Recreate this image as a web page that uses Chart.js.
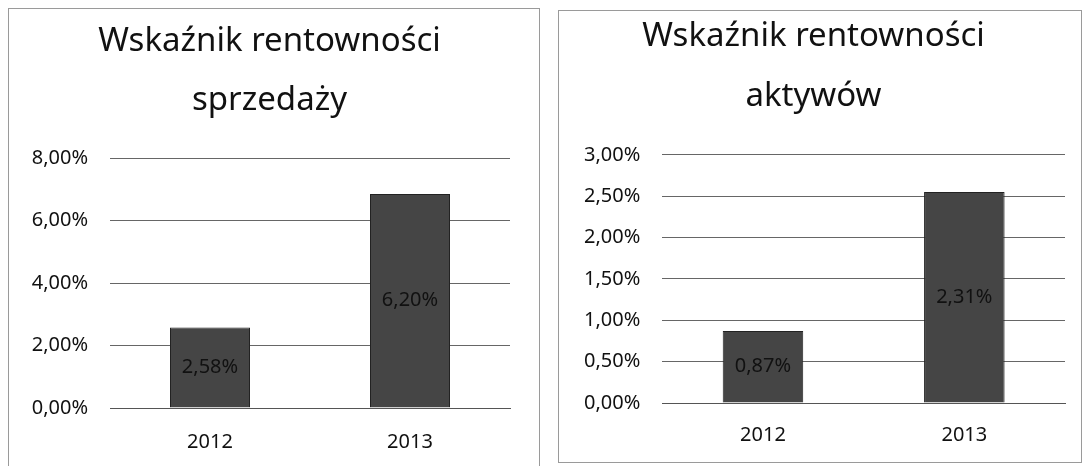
<!DOCTYPE html>
<html lang="pl">
<head>
  <meta charset="UTF-8">
  <title>Wskaźniki rentowności</title>
  <script src="https://cdn.jsdelivr.net/npm/chart.js"></script>
  <style>
    body { margin: 0; background: #fff; width: 1083px; height: 466px; overflow: hidden; position: relative; }
    .box { position: absolute; border: 1px solid #9a9a9a; background: #fff; overflow: hidden; }
    #box1 { left: 8px; top: 8px; width: 530px; height: 470px; }
    #box2 { left: 558px; top: 10px; width: 522px; height: 451px; }
  </style>
</head>
<body>
  <div class="box" id="box1"><canvas id="chart1" width="530" height="470"></canvas></div>
  <div class="box" id="box2"><canvas id="chart2" width="522" height="451"></canvas></div>

<script>
// dane
const years = ['2012', '2013'];
const salesRoS = [2.58, 6.85];          // wysokość słupków (%)
const salesLabels = ['2,58%', '6,20%']; // etykiety danych jak na obrazku
const assetsRoA = [0.87, 2.55];
const assetsLabels = ['0,87%', '2,31%'];

const FONT = "'Noto Sans', 'Open Sans', sans-serif";
const barColor = '#454545';

// etykiety danych w środku słupka
const barLabels = {
  id: 'barLabels',
  afterDatasetsDraw(chart, args, opts) {
    const ctx = chart.ctx;
    const meta = chart.getDatasetMeta(0);
    ctx.save();
    ctx.font = '20px ' + FONT;
    ctx.fillStyle = '#111';
    ctx.textAlign = 'center';
    ctx.textBaseline = 'middle';
    meta.data.forEach((bar, i) => {
      ctx.fillText(opts.texts[i], bar.x, (bar.y + bar.base) / 2);
    });
    ctx.restore();
  }
};

function pct(v) {
  return v.toFixed(2).replace('.', ',') + '%';
}

function makeChart(id, title, values, texts, max, step, pad, titlePad, lh, xPad, yWidth) {
  return new Chart(document.getElementById(id), {
    type: 'bar',
    data: {
      labels: years,
      datasets: [{
        data: values,
        backgroundColor: barColor,
        borderColor: '#222',
        borderWidth: 1,
        barPercentage: 0.4,
        categoryPercentage: 1
      }]
    },
    plugins: [barLabels],
    options: {
      responsive: false,
      animation: false,
      layout: { padding: pad },
      plugins: {
        legend: { display: false },
        tooltip: { enabled: false },
        title: {
          display: true,
          text: title,
          color: '#111',
          font: { family: FONT, size: 33, weight: 'normal', lineHeight: lh },
          padding: titlePad
        },
        barLabels: { texts: texts }
      },
      scales: {
        x: {
          grid: { display: false },
          border: { color: '#555', width: 1 },
          ticks: { color: '#111', font: { family: FONT, size: 20 }, padding: xPad }
        },
        y: {
          min: 0,
          max: max,
          border: { display: false },
          grid: { color: '#666', lineWidth: 1, drawTicks: false },
          ticks: {
            stepSize: step,
            color: '#111',
            padding: 22,
            font: { family: FONT, size: 20 },
            callback: v => pct(v)
          },
          afterFit: s => { if (yWidth) s.width = yWidth; }
        }
      }
    }
  });
}

makeChart('chart1', ['Wskaźnik rentowności', 'sprzedaży'], salesRoS, salesLabels,
  8, 2, { left: 20, right: 29, bottom: 11 }, { top: 4, bottom: 29 }, 1.76, 14, 81);
makeChart('chart2', ['Wskaźnik rentowności', 'aktywów'], assetsRoA, assetsLabels,
  3, 0.5, { left: 3, right: 16, bottom: 3 }, { top: -4, bottom: 29 }, 1.8, 12, null);
</script>
</body>
</html>
